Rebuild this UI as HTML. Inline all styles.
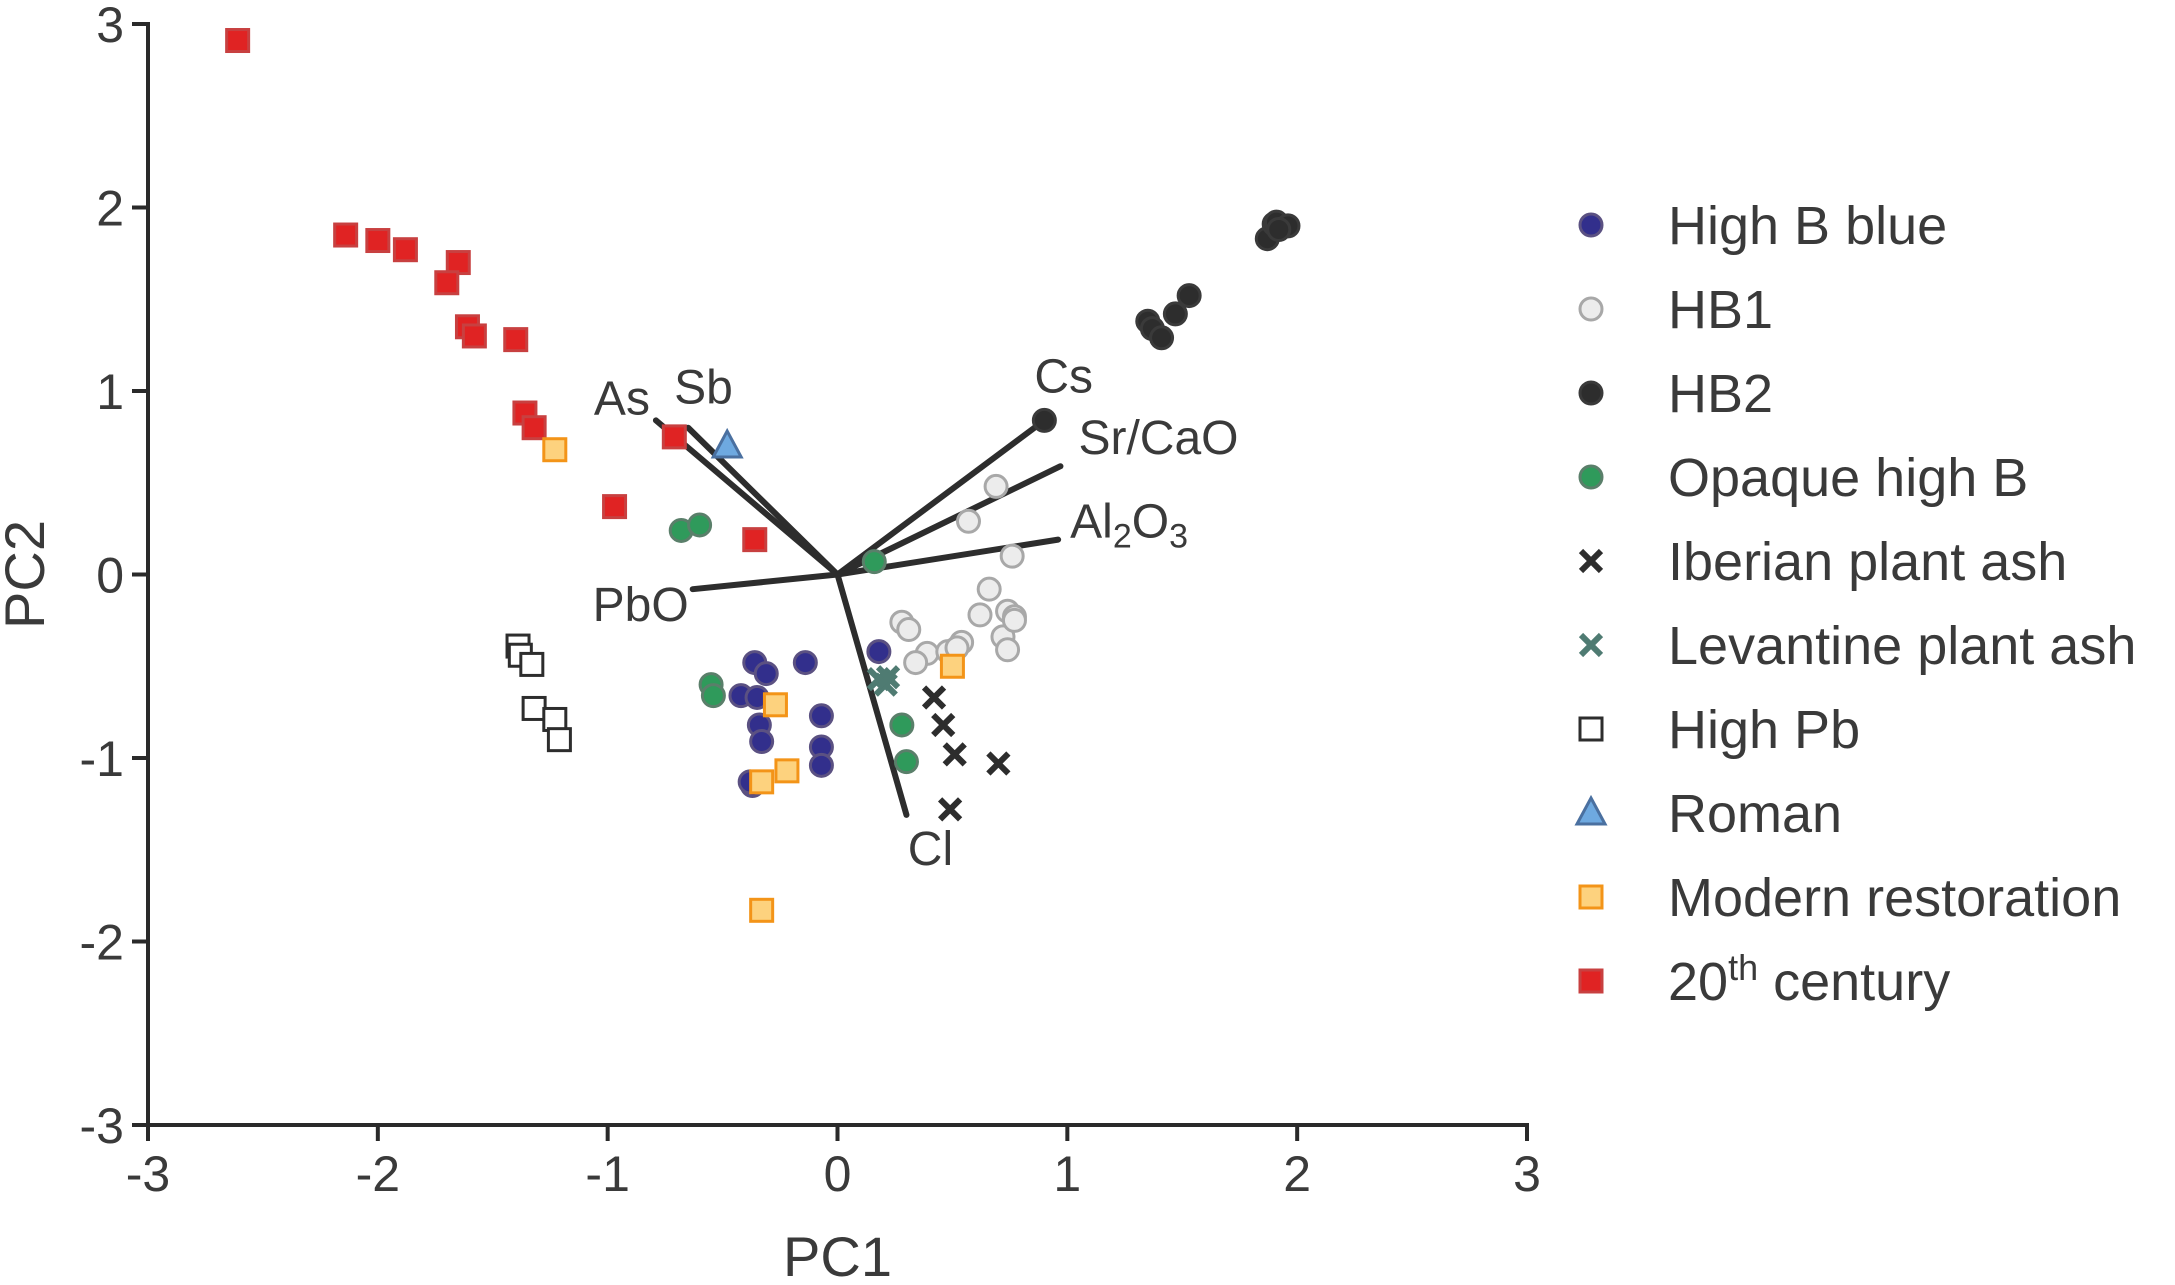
<!DOCTYPE html>
<html><head><meta charset="utf-8"><style>
html,body{margin:0;padding:0;background:#fff;}
svg{display:block;font-family:"Liberation Sans",Arial,sans-serif;}
</style></head><body>
<svg id="chart" width="2175" height="1285" viewBox="0 0 2175 1285">
<g id="axes"></g>
<g id="loadings"></g>
<g id="points"></g>
<g id="legend"></g>
</svg>
<script>
const xTicks = [-3,-2,-1,0,1,2,3];
const yTicks = [-3,-2,-1,0,1,2,3];
const xTickLabels = ["-3","-2","-1","0","1","2","3"];
const yTickLabels = ["-3","-2","-1","0","1","2","3"];
const seriesNames = ["High B blue","HB1","HB2","Opaque high B","Iberian plant ash","Levantine plant ash","High Pb","Roman","Modern restoration","20th century"];
const highBBlueX = [-0.36,-0.31,-0.42,-0.35,-0.34,-0.33,-0.14,-0.07,-0.07,-0.07,-0.37,0.18,-0.38];
const highBBlueY = [-0.48,-0.54,-0.66,-0.67,-0.82,-0.91,-0.48,-0.77,-0.94,-1.04,-1.15,-0.42,-1.13];
const hb1X = [0.69,0.57,0.76,0.66,0.62,0.74,0.77,0.72,0.74,0.28,0.31,0.39,0.34,0.48,0.54,0.52,0.77];
const hb1Y = [0.48,0.29,0.10,-0.08,-0.22,-0.20,-0.23,-0.34,-0.41,-0.26,-0.30,-0.43,-0.48,-0.42,-0.37,-0.40,-0.25];
const hb2X = [0.90,1.35,1.37,1.47,1.53,1.41,1.87,1.90,1.91,1.96,1.92];
const hb2Y = [0.84,1.38,1.34,1.42,1.52,1.29,1.83,1.91,1.92,1.90,1.88];
const opaqueX = [-0.68,-0.60,0.16,-0.55,-0.54,0.28,0.30];
const opaqueY = [0.24,0.27,0.07,-0.60,-0.66,-0.82,-1.02];
const iberianX = [0.42,0.46,0.51,0.70,0.49];
const iberianY = [-0.67,-0.82,-0.98,-1.03,-1.28];
const levantineX = [0.18,0.21,0.22];
const levantineY = [-0.57,-0.60,-0.56];
const highPbX = [-1.39,-1.38,-1.33,-1.32,-1.23,-1.21];
const highPbY = [-0.39,-0.44,-0.49,-0.73,-0.79,-0.90];
const romanX = [-0.48];
const romanY = [0.70];
const modernX = [-1.23,0.50,-0.27,-0.22,-0.33,-0.33];
const modernY = [0.68,-0.50,-0.71,-1.07,-1.13,-1.83];
const c20X = [-2.61,-2.14,-2.00,-1.88,-1.65,-1.70,-1.61,-1.58,-1.40,-1.36,-1.32,-0.97,-0.71,-0.36];
const c20Y = [2.91,1.85,1.82,1.77,1.70,1.59,1.35,1.30,1.28,0.88,0.80,0.37,0.75,0.19];
const loadingNames = ["As","Sb","Cs","Sr/CaO","Al2O3","PbO","Cl"];
const loadingX = [-0.79,-0.65,0.90,0.97,0.96,-0.63,0.30];
const loadingY = [0.84,0.80,0.84,0.59,0.19,-0.08,-1.31];

const NS="http://www.w3.org/2000/svg";
const X0=148, X1=1527, Y0=1125, Y1=24;
function sx(v){return X0+(v+3)/6*(X1-X0);}
function sy(v){return Y0-(v+3)/6*(Y0-Y1);}
function el(tag,attrs,parent){const e=document.createElementNS(NS,tag);for(const k in attrs)e.setAttribute(k,attrs[k]);parent.appendChild(e);return e;}
const axes=document.getElementById('axes');
const txtCol="#3a3a3a";
let a=el('line',{x1:X0,y1:Y1-2,x2:X0,y2:Y0,stroke:"#2a2a2a","stroke-width":4},axes);


a=el('line',{x1:X0,y1:Y0,x2:X1+2,y2:Y0,stroke:"#2a2a2a","stroke-width":4},axes);


xTicks.forEach((t,i)=>{
  const x=sx(t);
  let l=el('line',{x1:x,y1:Y0,x2:x,y2:Y0+16,stroke:"#2a2a2a","stroke-width":4},axes);
  
  
  let tx=el('text',{x:x,y:Y0+66,"font-size":50,fill:txtCol,"text-anchor":"middle"},axes);
  tx.textContent=xTickLabels[i];
  
  
});
yTicks.forEach((t,i)=>{
  const y=sy(t);
  let l=el('line',{x1:X0-16,y1:y,x2:X0,y2:y,stroke:"#2a2a2a","stroke-width":4},axes);
  
  
  let tx=el('text',{x:X0-24,y:y+18,"font-size":50,fill:txtCol,"text-anchor":"end"},axes);
  tx.textContent=yTickLabels[i];
  
  
});
let xt=el('text',{x:sx(0),y:1276,"font-size":56,fill:txtCol,"text-anchor":"middle"},axes);
xt.textContent="PC1";


let yt=el('text',{x:0,y:0,"font-size":56,fill:txtCol,"text-anchor":"middle",transform:"translate(44,"+sy(0)+") rotate(-90)"},axes);
yt.textContent="PC2";



const pts=document.getElementById('points');
function circle(g,x,y,fill,stroke){return el('circle',{cx:x,cy:y,r:11,fill:fill,stroke:stroke,"stroke-width":3},g);}
function square(g,x,y,fill,stroke){return el('rect',{x:x-11,y:y-11,width:22,height:22,fill:fill,stroke:stroke,"stroke-width":3},g);}
function cross(g,x,y,col){const p=el('path',{d:`M${x-10},${y-10}L${x+10},${y+10}M${x+10},${y-10}L${x-10},${y+10}`,stroke:col,"stroke-width":6},g);return p;}
function tri(g,x,y,fill,stroke){return el('path',{d:`M${x},${y-15}L${x+14},${y+11}L${x-14},${y+11}Z`,fill:fill,stroke:stroke,"stroke-width":3},g);}
const styles=[
 {xs:highBBlueX,ys:highBBlueY,draw:(g,x,y)=>circle(g,x,y,"#322f8c","#5b5182"),name:"high-b-blue-point"},
 {xs:hb1X,ys:hb1Y,draw:(g,x,y)=>circle(g,x,y,"#ececec","#a8a8a8"),name:"hb1-point"},
 {xs:hb2X,ys:hb2Y,draw:(g,x,y)=>circle(g,x,y,"#2d2d2d","#3a3a3a"),name:"hb2-point"},
 {xs:opaqueX,ys:opaqueY,draw:(g,x,y)=>circle(g,x,y,"#2f9a5b","#5a7f6a"),name:"opaque-high-b-point"},
 {xs:iberianX,ys:iberianY,draw:(g,x,y)=>cross(g,x,y,"#2d2d2d"),name:"iberian-plant-ash-point"},
 {xs:levantineX,ys:levantineY,draw:(g,x,y)=>cross(g,x,y,"#4f7b72"),name:"levantine-plant-ash-point"},
 {xs:highPbX,ys:highPbY,draw:(g,x,y)=>square(g,x,y,"#ffffff","#2d2d2d"),name:"high-pb-point"},
 {xs:romanX,ys:romanY,draw:(g,x,y)=>tri(g,x,y,"#6ea9e0","#4a70a0"),name:"roman-point"},
 {xs:modernX,ys:modernY,draw:(g,x,y)=>square(g,x,y,"#fdd27e","#f39418"),name:"modern-restoration-point"},
 {xs:c20X,ys:c20Y,draw:(g,x,y)=>square(g,x,y,"#e02323","#c84040"),name:"20th-century-point"}
];
const order=[9,6,1,2,0,3,8,5,4,7];
order.forEach(si=>{const s=styles[si];
  s.xs.forEach((v,i)=>{const m=s.draw(pts,sx(v),sy(s.ys[i]));
    
    });
});

const ld=document.getElementById('loadings');
const lblOff=[[-62,-6],[-14,-24],[-10,-28],[18,-12],[12,-2],[-4,32],[24,50]];
const lblAnchor=["start","start","start","start","start","end","middle"];
loadingNames.forEach((n,i)=>{
  const x=sx(loadingX[i]), y=sy(loadingY[i]);
  const l=el('line',{x1:sx(0),y1:sy(0),x2:x,y2:y,stroke:"#2d2d2d","stroke-width":6,"stroke-linecap":"round"},ld);
  
  
  const t=el('text',{x:x+lblOff[i][0],y:y+lblOff[i][1],"font-size":48,fill:txtCol,"text-anchor":lblAnchor[i]},ld);
  if(n==="Al2O3"){t.innerHTML='Al<tspan dy="10" font-size="34">2</tspan><tspan dy="-10">O</tspan><tspan dy="10" font-size="34">3</tspan>';}
  else t.textContent=n;
  
  
});
pts.parentNode.insertBefore(ld,pts);

const lg=document.getElementById('legend');
seriesNames.forEach((n,i)=>{
  const y=225+i*84;
  const m=styles[i].draw(lg,1591,y);
  
  
  const t=el('text',{x:1668,y:y+19,"font-size":54,fill:txtCol},lg);
  if(i===9){t.innerHTML='20<tspan dy="-20" font-size="36">th</tspan><tspan dy="20"> century</tspan>';}
  else t.textContent=n;
  
  
});
</script>
</body></html>
